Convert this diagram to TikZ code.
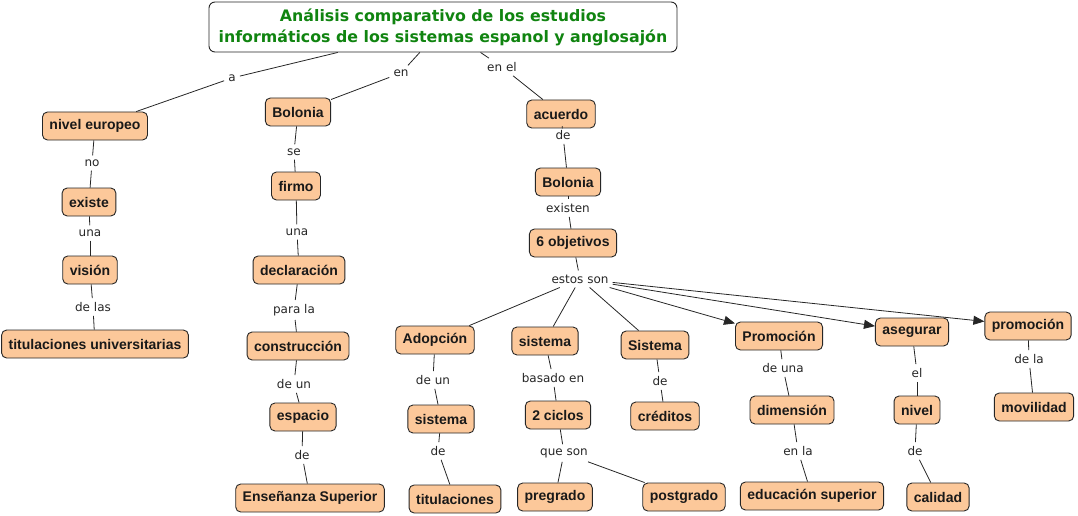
\documentclass[tikz,border=0pt]{standalone}
\usepackage{fontspec}
\setmainfont{DejaVu Sans}
\newfontfamily\nodefont{Liberation Sans}
\usetikzlibrary{arrows.meta}
\definecolor{peach}{RGB}{252,200,154}
\definecolor{titlegreen}{RGB}{16,132,16}
\begin{document}
\begin{tikzpicture}[x=1pt,y=-1pt,
 concept/.style={draw=black!85, line width=0.9pt, fill=peach, rounded corners=5pt, minimum height=28pt, inner xsep=7pt, inner ysep=2pt, font=\nodefont\bfseries\fontsize{14}{16}\selectfont, text=black!90},
 lbl/.style={inner xsep=4pt, inner ysep=4pt, font=\fontsize{12}{14}\selectfont, text=black!85},
 link/.style={draw=black!85, line width=0.8pt},
 arr/.style={link, -{Triangle[length=11pt,width=9pt]}}
]
\useasboundingbox (0,0) rectangle (1078,516);
\node[draw=black!85, line width=0.9pt, fill=white, rounded corners=6pt, minimum width=468pt, minimum height=50pt, align=center, font=\bfseries\fontsize{15.8}{21}\selectfont, text=titlegreen] (title) at (443,27) {Análisis comparativo de los estudios\\informáticos de los sistemas espanol y anglosajón};

% concepts
\node[concept] (nivel) at (95,126) {nivel europeo};
\node[concept] (existe) at (89,202) {existe};
\node[concept] (vision) at (90,270) {visión};
\node[concept] (tituniv) at (95,344) {titulaciones universitarias};
\node[concept] (bolA) at (298,112) {Bolonia};
\node[concept] (firmo) at (296,186) {firmo};
\node[concept] (decl) at (299,270) {declaración};
\node[concept] (constr) at (298,346) {construcción};
\node[concept] (espacio) at (303,417) {espacio};
\node[concept] (ensen) at (310,498) {Enseñanza Superior};
\node[concept] (acuerdo) at (561,114) {acuerdo};
\node[concept] (bolB) at (568,182) {Bolonia};
\node[concept] (obj) at (573,243) {6 objetivos};
\node[concept] (adop) at (435,340) {Adopción};
\node[concept] (sisA) at (545,341) {sistema};
\node[concept] (sisB) at (655,345) {Sistema};
\node[concept] (promA) at (779,336) {Promoción};
\node[concept] (aseg) at (912,332) {asegurar};
\node[concept] (promB) at (1028,326) {promoción};
\node[concept] (sisC) at (441,419) {sistema};
\node[concept] (titul) at (455,499) {titulaciones};
\node[concept] (ciclos) at (558,415) {2 ciclos};
\node[concept] (pregr) at (555,497) {pregrado};
\node[concept] (postg) at (684,497) {postgrado};
\node[concept] (cred) at (665,416) {créditos};
\node[concept] (dimen) at (792,410) {dimensión};
\node[concept] (educ) at (812,496) {educación superior};
\node[concept] (nivelB) at (917,410) {nivel};
\node[concept] (calid) at (938,497) {calidad};
\node[concept] (movil) at (1034,407) {movilidad};

% link labels
\node[lbl] (la) at (232,78) {a};
\node[lbl] (len) at (401,73) {en};
\node[lbl] (lenel) at (502,67) {en el};
\node[lbl] (lno) at (92,163) {no};
\node[lbl] (luna) at (90,233) {una};
\node[lbl] (ldelas) at (93,307) {de las};
\node[lbl] (lse) at (294,152) {se};
\node[lbl] (luna2) at (297,232) {una};
\node[lbl] (lparala) at (294,310) {para la};
\node[lbl] (ldeun) at (294,384) {de un};
\node[lbl] (lde1) at (302,455) {de};
\node[lbl] (lde2) at (563,135) {de};
\node[lbl] (lexist) at (568,208) {existen};
\node[lbl] (lestos) at (580,279) {estos son};
\node[lbl] (ldeun2) at (433,380) {de un};
\node[lbl] (lde3) at (438,451) {de};
\node[lbl] (lbasado) at (553,378) {basado en};
\node[lbl] (lqueson) at (564,453) {que son};
\node[lbl] (lde4) at (660,381) {de};
\node[lbl] (ldeuna) at (783,368) {de una};
\node[lbl] (lenla) at (798,451) {en la};
\node[lbl] (lel) at (917,373) {el};
\node[lbl] (lde5) at (915,451) {de};
\node[lbl] (ldela) at (1029,359) {de la};

% connectors
\draw[link] (title) -- (la);  \draw[link] (la) -- (nivel);
\draw[link] (title) -- (len); \draw[link] (len) -- (bolA);
\draw[link] (title) -- (lenel); \draw[link] (lenel) -- (acuerdo);
\draw[link] (nivel) -- (lno); \draw[link] (lno) -- (existe);
\draw[link] (existe) -- (luna); \draw[link] (luna) -- (vision);
\draw[link] (vision) -- (ldelas); \draw[link] (ldelas) -- (tituniv);
\draw[link] (bolA) -- (lse); \draw[link] (lse) -- (firmo);
\draw[link] (firmo) -- (luna2); \draw[link] (luna2) -- (decl);
\draw[link] (decl) -- (lparala); \draw[link] (lparala) -- (constr);
\draw[link] (constr) -- (ldeun); \draw[link] (ldeun) -- (espacio);
\draw[link] (espacio) -- (lde1); \draw[link] (lde1) -- (ensen);
\draw[link] (acuerdo) -- (lde2); \draw[link] (lde2) -- (bolB);
\draw[link] (bolB) -- (lexist); \draw[link] (lexist) -- (obj);
\draw[link] (obj) -- (lestos);
\draw[link] (lestos) -- (adop);
\draw[link] (lestos) -- (sisA);
\draw[link] (lestos) -- (sisB);
\draw[arr] (lestos) -- (promA);
\draw[arr] (lestos) -- (aseg);
\draw[arr] (lestos) -- (promB);
\draw[link] (adop) -- (ldeun2); \draw[link] (ldeun2) -- (sisC);
\draw[link] (sisC) -- (lde3); \draw[link] (lde3) -- (titul);
\draw[link] (sisA) -- (lbasado); \draw[link] (lbasado) -- (ciclos);
\draw[link] (ciclos) -- (lqueson); \draw[link] (lqueson) -- (pregr); \draw[link] (lqueson) -- (postg);
\draw[link] (sisB) -- (lde4); \draw[link] (lde4) -- (cred);
\draw[link] (promA) -- (ldeuna); \draw[link] (ldeuna) -- (dimen);
\draw[link] (dimen) -- (lenla); \draw[link] (lenla) -- (educ);
\draw[link] (aseg) -- (lel); \draw[link] (lel) -- (nivelB);
\draw[link] (nivelB) -- (lde5); \draw[link] (lde5) -- (calid);
\draw[link] (promB) -- (ldela); \draw[link] (ldela) -- (movil);
\end{tikzpicture}
\end{document}
